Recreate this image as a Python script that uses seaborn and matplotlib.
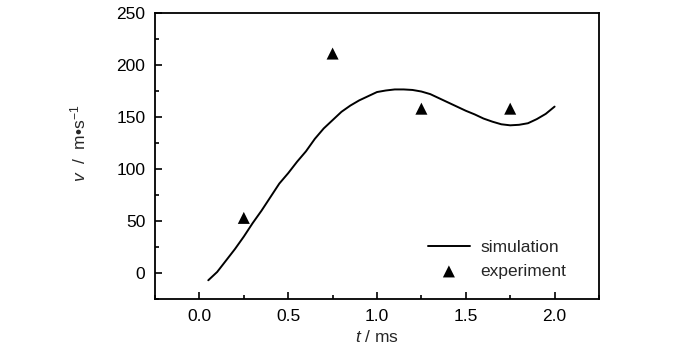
import matplotlib
matplotlib.use("Agg")
import matplotlib.pyplot as plt
import seaborn as sns
import pandas as pd
from matplotlib.ticker import MultipleLocator

# Simulation curve (t in ms, v in m/s)
sim_t = [0.05, 0.10, 0.15, 0.20, 0.25, 0.30, 0.35, 0.40, 0.45, 0.50,
         0.55, 0.60, 0.65, 0.70, 0.75, 0.80, 0.85, 0.90, 0.95, 1.00,
         1.05, 1.10, 1.15, 1.20, 1.25, 1.30, 1.35, 1.40, 1.45, 1.50,
         1.55, 1.60, 1.65, 1.70, 1.75, 1.80, 1.85, 1.90, 1.95, 2.00]
sim_v = [-7, 1, 12, 23, 35, 48, 60, 73, 86, 96,
         107, 117, 129, 139, 147, 155, 161, 166, 170, 174,
         175.5, 176.5, 176.5, 176, 174.5, 172, 168, 164, 160, 156,
         152.5, 148.5, 145.5, 143, 142, 142.5, 144, 148, 153, 160]

# Experimental points
exp_t = [0.25, 0.75, 1.25, 1.75]
exp_v = [53, 211, 158, 158]

x_ticks = [0.0, 0.5, 1.0, 1.5, 2.0]
y_ticks = [0, 50, 100, 150, 200, 250]

sim_df = pd.DataFrame({"t": sim_t, "v": sim_v})
exp_df = pd.DataFrame({"t": exp_t, "v": exp_v})

FONT = "Liberation Sans"
FS = 12.5

sns.set_style("ticks")
plt.rcParams["font.family"] = [FONT, "DejaVu Sans"]
plt.rcParams["mathtext.fontset"] = "custom"
plt.rcParams["mathtext.rm"] = FONT
plt.rcParams["mathtext.it"] = FONT + ":italic"

fig = plt.figure(figsize=(7.0, 3.48), dpi=100)
ax = fig.add_axes([155/700, 1 - 299/348, 444/700, 286/348])

sns.lineplot(data=sim_df, x="t", y="v", ax=ax, color="black", lw=1.4,
             label="simulation")
sns.scatterplot(data=exp_df, x="t", y="v", ax=ax, color="black",
                marker="^", s=75, edgecolor="none", label="experiment")

ax.set_xlim(-0.25, 2.25)
ax.set_ylim(-25, 250)
ax.set_xticks(x_ticks)
ax.set_xticklabels([f"{v:.1f}" for v in x_ticks])
ax.set_yticks(y_ticks)
ax.set_yticklabels([str(v) for v in y_ticks])
ax.xaxis.set_minor_locator(MultipleLocator(0.25))
ax.yaxis.set_minor_locator(MultipleLocator(25))

ax.tick_params(which="both", direction="in", colors="black",
               labelsize=FS, width=1.2)
ax.tick_params(which="major", length=5)
ax.tick_params(which="minor", length=3)
ax.tick_params(axis="x", pad=7)
ax.tick_params(axis="y", pad=7)

for sp in ax.spines.values():
    sp.set_visible(True)
    sp.set_linewidth(1.3)
    sp.set_color("black")

ax.set_xlabel(r"$t$ / ms", fontsize=FS, labelpad=4)
ax.set_ylabel(r"$v$  /  m•s$^{-1}$", fontsize=FS)
ax.yaxis.set_label_coords(-0.151, 0.545)

ax.legend(loc="lower left", bbox_to_anchor=(0.615, 0.07), frameon=False,
          fontsize=FS, handlelength=2.4, handletextpad=0.6,
          borderpad=0, borderaxespad=0, labelspacing=0.5)

fig.savefig("out.png", dpi=100)
